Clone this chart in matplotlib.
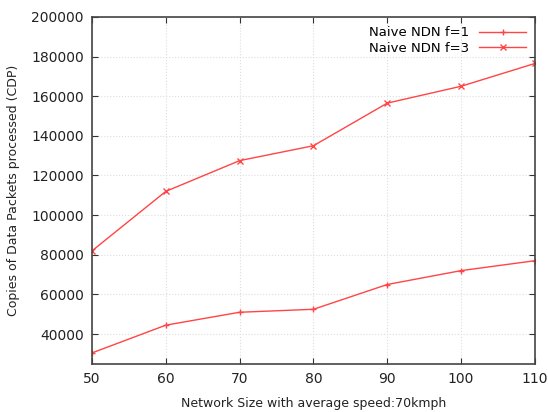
import matplotlib
matplotlib.use('Agg')
import matplotlib.pyplot as plt

# network sizes and CDP values
sizes = [50, 60, 70, 80, 90, 100, 110]
ndn_f1 = [30500, 44500, 51000, 52500, 65000, 72000, 77000]
ndn_f3 = [82000, 112000, 127500, 135000, 156500, 165000, 176500]
yticks = [40000, 60000, 80000, 100000, 120000, 140000, 160000, 180000, 200000]

plt.rcParams['font.family'] = 'DejaVu Sans'
plt.rcParams['font.size'] = 10

fig = plt.figure(figsize=(5.48, 4.12), dpi=100)
ax = fig.add_axes([0.168, 0.117, 0.808, 0.842])

red = '#ff4545'
ax.plot(sizes, ndn_f1, color=red, lw=1, marker='+', ms=5, label='Naive NDN f=1')
ax.plot(sizes, ndn_f3, color=red, lw=1, marker='x', ms=4, label='Naive NDN f=3')

ax.set_xlim(50, 110)
ax.set_ylim(25000, 200000)
ax.set_xticks(sizes)
ax.set_yticks(yticks)
ax.grid(True, color='#dddddd', linestyle=':', linewidth=0.8)
ax.tick_params(direction='in', top=True, right=True, length=4, pad=6,
               color='#333333', labelcolor='#222222')
for s in ax.spines.values():
    s.set_color('#444444')
    s.set_linewidth(1.2)

ax.set_xlabel('Network Size with average speed:70kmph', fontsize=9, color='#222222', labelpad=8)
ax.set_ylabel('Copies of Data Packets processed (CDP)', fontsize=9, color='#222222', labelpad=8)

leg = ax.legend(loc='upper right', frameon=False, markerfirst=False, handlelength=3.5,
                borderaxespad=0.3, labelspacing=0.2, fontsize=9.5)

fig.savefig('out.png', dpi=100)
